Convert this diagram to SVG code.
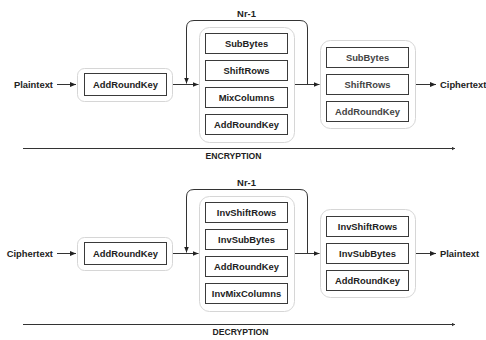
<svg xmlns="http://www.w3.org/2000/svg" width="486" height="340" viewBox="0 0 486 340">
<defs>
<marker id="arr" markerWidth="6" markerHeight="6" refX="6" refY="3" orient="auto" markerUnits="userSpaceOnUse"><path d="M0,0.5 L6,3 L0,5.5 z" fill="#222"/></marker>
<marker id="sarr" markerWidth="4" markerHeight="4" refX="3.5" refY="2" orient="auto" markerUnits="userSpaceOnUse"><path d="M0,0 L3.5,2 L0,4 z" fill="#333"/></marker>
</defs>
<style>
text{font-family:"Liberation Sans",Arial,sans-serif;font-weight:bold;font-size:9.4px;fill:#222}
.lab{text-anchor:middle}
.cont{fill:#fff;stroke:#d6d6d6;stroke-width:1}
.box{fill:#fff;stroke:#3a3a3a;stroke-width:1}
.con{fill:none;stroke:#333;stroke-width:1}
.sec{font-size:8.6px;text-anchor:middle}
.g{fill:#444}
</style>
<rect width="486" height="340" fill="#fff"/>

<g id="connectors">
<path class="con" d="M57,84.5 H76" marker-end="url(#arr)"/>
<path class="con" d="M172.5,84.5 H198.5" marker-end="url(#arr)"/>
<path class="con" d="M294.5,84.5 H319.5" marker-end="url(#arr)"/>
<path class="con" d="M415.5,84.5 H436" marker-end="url(#arr)"/>
<path class="con" d="M307.5,84.5 V28 Q307.5,20.5 300,20.5 H194 Q186.5,20.5 186.5,28 V83.5" marker-end="url(#arr)"/>
<path class="con" d="M246.5,53.5 V60.5" marker-end="url(#sarr)"/>
<path class="con" d="M246.5,80.5 V87.5" marker-end="url(#sarr)"/>
<path class="con" d="M246.5,107.5 V114.5" marker-end="url(#sarr)"/>
<path class="con" d="M367.5,67.5 V74.5" marker-end="url(#sarr)"/>
<path class="con" d="M367.5,94.5 V101.5" marker-end="url(#sarr)"/>
<path class="con" d="M23,148.5 H455" marker-end="url(#sarr)"/>

<path class="con" d="M57,253.5 H76" marker-end="url(#arr)"/>
<path class="con" d="M172.5,253.5 H198.5" marker-end="url(#arr)"/>
<path class="con" d="M294.5,253.5 H319.5" marker-end="url(#arr)"/>
<path class="con" d="M415.5,253.5 H436" marker-end="url(#arr)"/>
<path class="con" d="M307.5,253.5 V197 Q307.5,189.5 300,189.5 H194 Q186.5,189.5 186.5,197 V252.5" marker-end="url(#arr)"/>
<path class="con" d="M246.5,222.5 V229.5" marker-end="url(#sarr)"/>
<path class="con" d="M246.5,249.5 V256.5" marker-end="url(#sarr)"/>
<path class="con" d="M246.5,276.5 V283.5" marker-end="url(#sarr)"/>
<path class="con" d="M367.5,236.5 V243.5" marker-end="url(#sarr)"/>
<path class="con" d="M367.5,263.5 V270.5" marker-end="url(#sarr)"/>
<path class="con" d="M23,324.5 H455" marker-end="url(#sarr)"/>
</g>

<g id="enc-labels">
<text x="53" y="88" text-anchor="end">Plaintext</text>
<text x="440" y="88">Ciphertext</text>
<text x="246.5" y="17" class="lab">Nr-1</text>
<text x="233.5" y="158.5" class="sec">ENCRYPTION</text>
</g>

<g id="enc-initial">
<rect class="cont" x="77.5" y="68.5" width="95" height="33" rx="7"/>
<rect class="box" x="84.5" y="73.5" width="82" height="22"/>
<text x="125.5" y="88" class="lab">AddRoundKey</text>
</g>

<g id="enc-round">
<rect class="cont" x="199.5" y="27.5" width="95" height="115" rx="10"/>
<rect class="box" x="205.5" y="33.5" width="82" height="20"/>
<text x="246.5" y="47" class="lab">SubBytes</text>
<rect class="box" x="205.5" y="60.5" width="82" height="20"/>
<text x="246.5" y="74" class="lab">ShiftRows</text>
<rect class="box" x="205.5" y="87.5" width="82" height="20"/>
<text x="246.5" y="101" class="lab">MixColumns</text>
<rect class="box" x="205.5" y="114.5" width="82" height="20"/>
<text x="246.5" y="128" class="lab">AddRoundKey</text>
</g>

<g id="enc-final">
<rect class="cont" x="320.5" y="40.5" width="95" height="88" rx="10"/>
<rect class="box" x="326.5" y="47.5" width="82" height="20"/>
<text x="367.5" y="61" class="lab g">SubBytes</text>
<rect class="box" x="326.5" y="74.5" width="82" height="20"/>
<text x="367.5" y="88" class="lab g">ShiftRows</text>
<rect class="box" x="326.5" y="101.5" width="82" height="20"/>
<text x="367.5" y="115" class="lab g">AddRoundKey</text>
</g>

<g id="dec-labels">
<text x="53" y="257" text-anchor="end">Ciphertext</text>
<text x="440" y="257">Plaintext</text>
<text x="246.5" y="186" class="lab">Nr-1</text>
<text x="240.5" y="334.5" class="sec">DECRYPTION</text>
</g>

<g id="dec-initial">
<rect class="cont" x="77.5" y="237.5" width="95" height="33" rx="7"/>
<rect class="box" x="84.5" y="242.5" width="82" height="22"/>
<text x="125.5" y="257" class="lab">AddRoundKey</text>
</g>

<g id="dec-round">
<rect class="cont" x="199.5" y="196.5" width="95" height="115" rx="10"/>
<rect class="box" x="205.5" y="202.5" width="82" height="20"/>
<text x="246.5" y="216" class="lab">InvShiftRows</text>
<rect class="box" x="205.5" y="229.5" width="82" height="20"/>
<text x="246.5" y="243" class="lab">InvSubBytes</text>
<rect class="box" x="205.5" y="256.5" width="82" height="20"/>
<text x="246.5" y="270" class="lab">AddRoundKey</text>
<rect class="box" x="205.5" y="283.5" width="82" height="20"/>
<text x="246.5" y="297" class="lab">InvMixColumns</text>
</g>

<g id="dec-final">
<rect class="cont" x="320.5" y="209.5" width="95" height="88" rx="10"/>
<rect class="box" x="326.5" y="216.5" width="82" height="20"/>
<text x="367.5" y="230" class="lab">InvShiftRows</text>
<rect class="box" x="326.5" y="243.5" width="82" height="20"/>
<text x="367.5" y="257" class="lab">InvSubBytes</text>
<rect class="box" x="326.5" y="270.5" width="82" height="20"/>
<text x="367.5" y="284" class="lab">AddRoundKey</text>
</g>
</svg>
